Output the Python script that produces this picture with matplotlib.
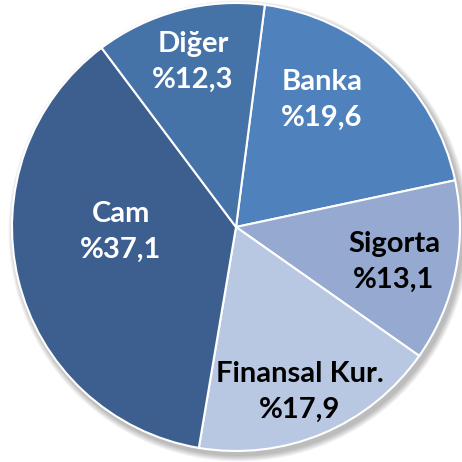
import matplotlib.pyplot as plt
from matplotlib.patches import Circle

# Sector shares (%)
labels = ["Banka", "Sigorta", "Finansal Kur.", "Cam", "Diğer"]
shares = [19.6, 13.1, 17.9, 37.1, 12.3]

colors = ["#4F81BD", "#95A9D1", "#B9C8E2", "#3C5F8F", "#4573A8"]
text_colors = ["white", "black", "black", "white", "white"]
# label centres in pixel coordinates (x, y from top)
label_pos = [(322, 100), (394, 262), (300, 392), (121, 232), (193, 62)]

W = 462
cx, cy, r = 236, W - 227, 224

fig = plt.figure(figsize=(4.62, 4.62), dpi=100)
ax = fig.add_axes([0, 0, 1, 1])

# soft drop shadow
for i in range(8):
    ax.add_patch(Circle((cx + 3, cy - 4), r + 1 + i * 0.8, color="black",
                        alpha=0.035, lw=0, zorder=0))

ax.pie(shares, colors=colors, startangle=82.6, counterclock=False,
       center=(cx, cy), radius=r, frame=True,
       wedgeprops=dict(edgecolor="white", linewidth=1.5))
ax.set_xlim(0, W)
ax.set_ylim(0, W)
ax.set_aspect("equal")
ax.axis("off")

for name, val, (x, y), tc in zip(labels, shares, label_pos, text_colors):
    txt = f"{name}\n%{str(val).replace('.', ',')}"
    ax.text(x, W - y, txt, ha="center", va="center", color=tc,
            fontsize=21, fontweight="bold", family="Lato", linespacing=1.45)

fig.savefig("out.png", dpi=100, facecolor="white")
